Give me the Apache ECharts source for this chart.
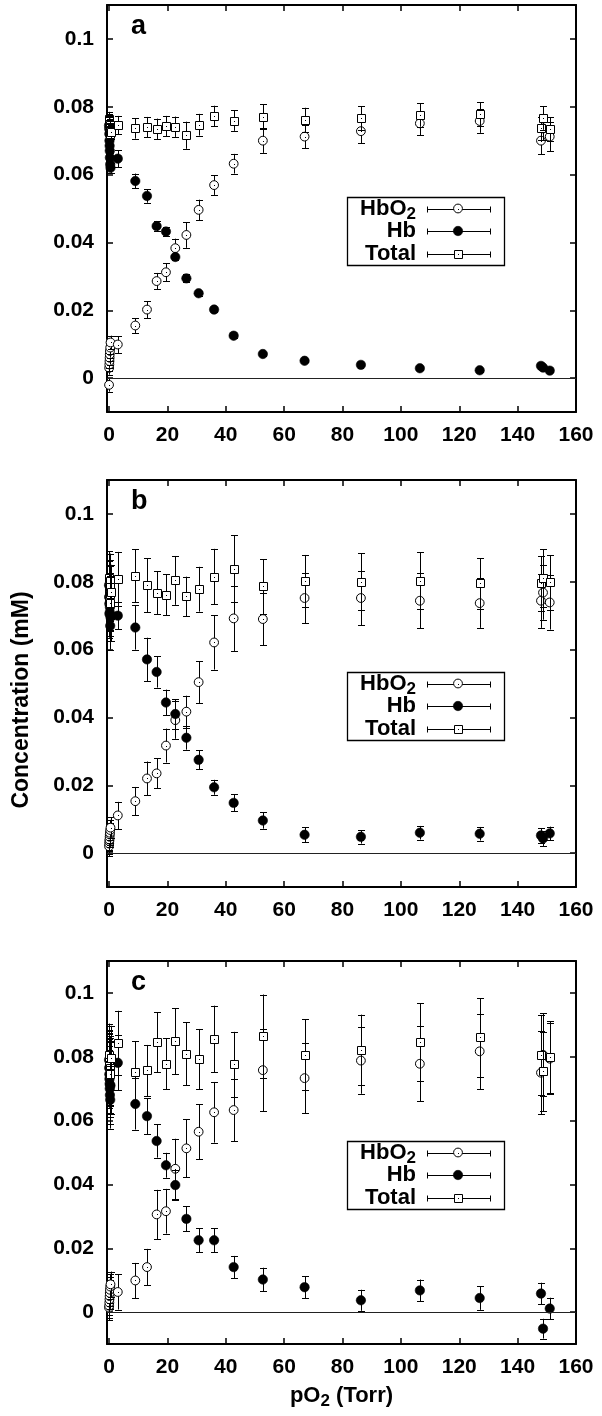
<!DOCTYPE html>
<html>
<head>
<meta charset="utf-8">
<script src="https://cdn.jsdelivr.net/npm/echarts@6/dist/echarts.min.js"></script>
<style>
  html, body { margin: 0; padding: 0; background: #fff; }
  #chart { width: 602px; height: 1416px; }
</style>
</head>
<body>
<div id="chart"></div>
<script>
// Haemoglobin oxygen titration: HbO2, deoxy-Hb and total Hb (mM) versus pO2 (Torr)
const FONT = '"Liberation Sans", Arial, Helvetica, sans-serif';

// pO2 of each spectrum: a tight group near anoxia, then the titration steps
const pO2 = [0, 0.05, 0.1, 0.15, 0.2, 0.25, 0.3, 0.4, 0.5,
  3, 9, 13, 16.3, 19.5, 22.7, 26.5, 30.7, 36, 42.7, 52.7, 67, 86.3, 106.5, 127, 148, 148.7, 151];

const xTicks = [0, 20, 40, 60, 80, 100, 120, 140, 160];
const yTicks = [0, 0.02, 0.04, 0.06, 0.08, 0.1];
const panelLabels = ['a', 'b', 'c'];

// Panel a
const aHbO2 = [-0.002, 0.003, 0.004, 0.005, 0.006, 0.007, 0.008, 0.009, 0.0105,
  0.0099, 0.0155, 0.0202, 0.0286, 0.0312, 0.0383, 0.0422, 0.0496, 0.0569, 0.0632, 0.0700, 0.0712, 0.0728, 0.0751, 0.0758, 0.0700, 0.0736, 0.0712];
const aHbO2Err = [0.002, 0.002, 0.002, 0.002, 0.002, 0.002, 0.002, 0.002, 0.002,
  0.0025, 0.0022, 0.0025, 0.0024, 0.0026, 0.0028, 0.0038, 0.003, 0.0029, 0.0029, 0.0036, 0.0035, 0.0035, 0.0035, 0.0035, 0.004, 0.0035, 0.0043];
const aHb = [0.0745, 0.0735, 0.072, 0.070, 0.0685, 0.067, 0.065, 0.063, 0.062,
  0.0647, 0.0581, 0.0537, 0.0448, 0.0432, 0.0357, 0.0294, 0.0250, 0.0202, 0.0125, 0.0071, 0.0051, 0.0039, 0.0029, 0.0023, 0.0036, 0.0031, 0.0022];
const aHbErr = [0.0015, 0.0015, 0.0015, 0.0015, 0.0015, 0.0015, 0.0015, 0.0015, 0.0015,
  0.0025, 0.0022, 0.002, 0.0015, 0.0013, 0.001, 0.0012, 0.0008, 0.0008, 0.0006, 0.0005, 0.0004, 0.0004, 0.0004, 0.0004, 0.0004, 0.0004, 0.0004];
const aTotal = [0.0725, 0.0765, 0.076, 0.075, 0.0745, 0.074, 0.073, 0.072, 0.0725,
  0.0746, 0.0736, 0.0740, 0.0735, 0.0743, 0.0741, 0.0716, 0.0747, 0.0773, 0.0759, 0.0771, 0.0762, 0.0766, 0.0776, 0.0778, 0.0736, 0.0767, 0.0734];
const aTotalErr = [0.002, 0.002, 0.002, 0.002, 0.002, 0.002, 0.002, 0.002, 0.002,
  0.0027, 0.003, 0.003, 0.003, 0.003, 0.003, 0.004, 0.0032, 0.003, 0.003, 0.0037, 0.0035, 0.0035, 0.0035, 0.0035, 0.0035, 0.0035, 0.0035];

// Panel b
const bHbO2 = [0.002, 0.0028, 0.0035, 0.004, 0.0048, 0.0055, 0.006, 0.0068, 0.0075,
  0.0111, 0.0153, 0.022, 0.0235, 0.0317, 0.0392, 0.0417, 0.0504, 0.0621, 0.0692, 0.069, 0.0752, 0.0752, 0.0744, 0.0737, 0.0744, 0.0768, 0.0739];
const bHbO2Err = [0.003, 0.003, 0.003, 0.003, 0.003, 0.003, 0.003, 0.003, 0.003,
  0.004, 0.0042, 0.005, 0.0044, 0.005, 0.0055, 0.0047, 0.0062, 0.008, 0.0096, 0.0077, 0.0074, 0.008, 0.0081, 0.0073, 0.008, 0.008, 0.008];
const bHb = [0.079, 0.0755, 0.0735, 0.0705, 0.0755, 0.071, 0.0725, 0.067, 0.0695,
  0.070, 0.0665, 0.0571, 0.0534, 0.0444, 0.041, 0.034, 0.0275, 0.0194, 0.0148, 0.0096, 0.0054, 0.0048, 0.006, 0.0057, 0.0052, 0.0043, 0.0058];
const bHbErr = [0.007, 0.007, 0.007, 0.007, 0.007, 0.007, 0.007, 0.007, 0.007,
  0.004, 0.0065, 0.0064, 0.0046, 0.0038, 0.0043, 0.0035, 0.0028, 0.0022, 0.0025, 0.0024, 0.0022, 0.002, 0.002, 0.002, 0.0022, 0.0022, 0.002];
const bTotal = [0.081, 0.0783, 0.077, 0.0745, 0.0803, 0.0765, 0.0785, 0.0738, 0.077,
  0.0808, 0.0818, 0.079, 0.0768, 0.0762, 0.0804, 0.0757, 0.0778, 0.0815, 0.0839, 0.0786, 0.0803, 0.080, 0.0803, 0.0795, 0.0795, 0.0811, 0.0798];
const bTotalErr = [0.008, 0.008, 0.008, 0.008, 0.008, 0.008, 0.008, 0.008, 0.008,
  0.008, 0.0078, 0.008, 0.0063, 0.006, 0.0072, 0.0058, 0.0066, 0.0082, 0.0098, 0.008, 0.0076, 0.0084, 0.0084, 0.0075, 0.008, 0.0085, 0.008];

// Panel c
const cHbO2 = [0.0014, 0.002, 0.003, 0.004, 0.005, 0.006, 0.007, 0.008, 0.0087,
  0.0063, 0.0099, 0.0141, 0.0306, 0.0316, 0.0449, 0.0513, 0.0565, 0.0626, 0.0633, 0.0758, 0.0733, 0.0788, 0.0778, 0.0817, 0.075, 0.0806, 0.0794];
const cHbO2Err = [0.004, 0.004, 0.004, 0.004, 0.004, 0.004, 0.004, 0.004, 0.004,
  0.0055, 0.0055, 0.0057, 0.0077, 0.007, 0.0094, 0.0091, 0.0086, 0.0095, 0.0097, 0.0128, 0.011, 0.0104, 0.0117, 0.0118, 0.013, 0.013, 0.0112];
const cHb = [0.079, 0.0765, 0.0745, 0.073, 0.0715, 0.070, 0.068, 0.0665, 0.071,
  0.0781, 0.0652, 0.0614, 0.0536, 0.046, 0.0398, 0.0292, 0.0225, 0.0225, 0.0141, 0.0102, 0.0078, 0.0037, 0.0068, 0.0044, 0.0058, -0.0052, 0.0011];
const cHbErr = [0.009, 0.009, 0.009, 0.009, 0.009, 0.009, 0.009, 0.009, 0.009,
  0.0086, 0.008, 0.0056, 0.0052, 0.0039, 0.0047, 0.0039, 0.0038, 0.0038, 0.0035, 0.0037, 0.0035, 0.0033, 0.0034, 0.0037, 0.0034, 0.0031, 0.0034];
const cTotal = [0.0804, 0.0785, 0.0775, 0.077, 0.0765, 0.076, 0.075, 0.0745, 0.0797,
  0.0843, 0.0753, 0.0757, 0.0846, 0.0778, 0.0849, 0.0809, 0.0793, 0.0856, 0.0776, 0.0864, 0.0807, 0.0822, 0.0846, 0.0861, 0.0806, 0.0754, 0.0799];
const cTotalErr = [0.01, 0.01, 0.01, 0.01, 0.01, 0.01, 0.01, 0.01, 0.01,
  0.0101, 0.0096, 0.008, 0.0094, 0.008, 0.0103, 0.0099, 0.0094, 0.0104, 0.0102, 0.0131, 0.011, 0.011, 0.0122, 0.0123, 0.0125, 0.0125, 0.0112];

const panels = [
  { HbO2: [aHbO2, aHbO2Err], Hb: [aHb, aHbErr], Total: [aTotal, aTotalErr] },
  { HbO2: [bHbO2, bHbO2Err], Hb: [bHb, bHbErr], Total: [bTotal, bTotalErr] },
  { HbO2: [cHbO2, cHbO2Err], Hb: [cHb, cHbErr], Total: [cTotal, cTotalErr] }
];

// series drawing order, legend order and symbol of each species
const species = [
  { key: 'HbO2', marker: 'openCircle', label: 'HbO{s|2}' },
  { key: 'Hb', marker: 'filledCircle', label: 'Hb' },
  { key: 'Total', marker: 'openSquare', label: 'Total' }
];

const X_MIN = -0.7, X_MAX = 160, Y_MIN = -0.01, Y_MAX = 0.11;
// legend box anchor (top-left corner) in data units of each panel
const LEGEND_ANCHOR = [81.5, 0.0535];

const gridBoxes = [
  { left: 107, top: 5, width: 469, height: 407 },
  { left: 107, top: 480, width: 469, height: 407 },
  { left: 107, top: 961, width: 469, height: 383 }
];

const px = v => Math.round(v) + 0.5;

function markerShape(kind, x, y) {
  const cx = px(x), cy = px(y);
  if (kind === 'filledCircle') {
    return [{ type: 'circle', shape: { cx: x, cy: y, r: 4.7 }, style: { fill: '#000', stroke: '#000', lineWidth: 0.6 } }];
  }
  const dot = { type: 'rect', shape: { x: Math.round(x), y: Math.round(y), width: 1, height: 1 }, style: { fill: '#000' } };
  if (kind === 'openCircle') {
    return [{ type: 'circle', shape: { cx: x, cy: y, r: 4.4 }, style: { fill: '#fff', stroke: '#000', lineWidth: 1 } }, dot];
  }
  return [{ type: 'rect', shape: { x: cx - 4, y: cy - 4, width: 8, height: 8 }, style: { fill: '#fff', stroke: '#000', lineWidth: 1 } }, dot];
}

function errorBarRenderer(kind) {
  return function (params, api) {
    const x = api.value(0), y = api.value(1), e = api.value(2);
    const c = api.coord([x, y]);
    const lo = api.coord([x, y - e]);
    const hi = api.coord([x, y + e]);
    const bx = px(c[0]);
    const cap = 3.5;
    const ls = { stroke: '#000', lineWidth: 1 };
    const children = [
      { type: 'line', shape: { x1: bx, y1: lo[1], x2: bx, y2: hi[1] }, style: ls },
      { type: 'line', shape: { x1: bx - cap, y1: px(lo[1]), x2: bx + cap, y2: px(lo[1]) }, style: ls },
      { type: 'line', shape: { x1: bx - cap, y1: px(hi[1]), x2: bx + cap, y2: px(hi[1]) }, style: ls }
    ].concat(markerShape(kind, c[0], c[1]));
    return { type: 'group', children: children };
  };
}

const labelStyle = { fontFamily: FONT, fontWeight: 'bold', fontSize: 21, color: '#000' };
const frameLine = { show: true, onZero: false, lineStyle: { color: '#000', width: 2 } };
const tickStyle = { color: '#000', width: 1.5 };
const subStyle = { fontFamily: FONT, fontWeight: 'bold', fontSize: 17, lineHeight: 8, verticalAlign: 'bottom' };

const grid = [], xAxis = [], yAxis = [], series = [];

gridBoxes.forEach((g, i) => {
  grid.push(Object.assign({ containLabel: false }, g));

  // bottom and top x axes (top one mirrors ticks only)
  ['bottom', 'top'].forEach(pos => {
    const isMain = pos === 'bottom';
    xAxis.push({
      type: 'value', gridIndex: i, position: pos, min: X_MIN, max: X_MAX,
      axisLine: frameLine,
      axisTick: { show: true, inside: true, length: 6, customValues: xTicks, lineStyle: tickStyle },
      axisLabel: Object.assign({ show: isMain, margin: 13, customValues: xTicks, formatter: v => String(Math.round(v)) }, labelStyle),
      splitLine: { show: false },
      name: (isMain && i === 2) ? 'pO{s|2} (Torr)' : '',
      nameLocation: 'middle', nameGap: 38,
      nameTextStyle: {
        fontFamily: FONT, fontWeight: 'bold', fontSize: 22, color: '#000', lineHeight: 28,
        rich: { s: Object.assign({ color: '#000' }, subStyle) }
      }
    });
  });

  // left and right y axes (right one mirrors ticks only)
  ['left', 'right'].forEach(pos => {
    const isMain = pos === 'left';
    yAxis.push({
      type: 'value', gridIndex: i, position: pos, min: Y_MIN, max: Y_MAX,
      axisLine: frameLine,
      axisTick: { show: true, inside: true, length: 6, customValues: yTicks, lineStyle: tickStyle },
      axisLabel: Object.assign({
        show: isMain, margin: 13, customValues: yTicks,
        formatter: v => (Math.abs(v) < 1e-9 ? '0' : String(+v.toFixed(2)))
      }, labelStyle),
      splitLine: { show: false }
    });
  });

  species.forEach((sp, k) => {
    const [vals, errs] = panels[i][sp.key];
    const s = {
      type: 'custom',
      name: sp.key,
      xAxisIndex: i * 2,
      yAxisIndex: i * 2,
      z: 3 + k,
      clip: false,
      renderItem: errorBarRenderer(sp.marker),
      data: pO2.map((x, j) => [x, vals[j], errs[j]]),
      silent: true
    };
    if (k === 0) {
      // zero-concentration reference line
      s.markLine = {
        silent: true, symbol: ['none', 'none'], animation: false,
        label: { show: false },
        lineStyle: { color: '#222', width: 1, type: 'solid' },
        data: [{ yAxis: 0 }]
      };
    }
    series.push(s);
  });
});

const chart = echarts.init(document.getElementById('chart'), null, { renderer: 'canvas' });
chart.setOption({ animation: false, backgroundColor: '#fff', grid, xAxis, yAxis, series });

// shared y title, panel letters and legends
const graphic = [{
  type: 'text', x: 22, y: 700, rotation: Math.PI / 2, silent: true,
  style: {
    text: 'Concentration (mM)', align: 'center', verticalAlign: 'middle',
    fontFamily: FONT, fontWeight: 'bold', fontSize: 23, fill: '#000'
  }
}];
gridBoxes.forEach((g, i) => {
  graphic.push({
    type: 'text', left: g.left + 24, top: g.top + 8, silent: true,
    style: { text: panelLabels[i], fontFamily: FONT, fontWeight: 'bold', fontSize: 27, fill: '#000' }
  });

  const p = chart.convertToPixel({ xAxisIndex: i * 2, yAxisIndex: i * 2 }, LEGEND_ANCHOR);
  const lx = Math.round(p[0]), ly = Math.round(p[1]);
  const children = [{
    type: 'rect', shape: { x: lx + 0.5, y: ly + 0.5, width: 157, height: 68 },
    style: { fill: 'none', stroke: '#000', lineWidth: 1.3 }
  }];
  const rowY = [11.5, 34, 57];
  species.forEach((sp, k) => {
    const ry = ly + rowY[k];
    children.push({
      type: 'text',
      style: {
        text: sp.label, x: lx + 69, y: ry, align: 'right', verticalAlign: 'middle',
        fontFamily: FONT, fontWeight: 'bold', fontSize: 22, fill: '#000', lineHeight: 28,
        rich: { s: Object.assign({ fill: '#000' }, subStyle) }
      }
    });
    const y0 = px(ry);
    const ls = { stroke: '#000', lineWidth: 1 };
    children.push({ type: 'line', shape: { x1: lx + 80, y1: y0, x2: lx + 144, y2: y0 }, style: ls });
    children.push({ type: 'line', shape: { x1: lx + 80.5, y1: y0 - 3, x2: lx + 80.5, y2: y0 + 3 }, style: ls });
    children.push({ type: 'line', shape: { x1: lx + 143.5, y1: y0 - 3, x2: lx + 143.5, y2: y0 + 3 }, style: ls });
    markerShape(sp.marker, lx + 111, ry).forEach(m => children.push(m));
  });
  graphic.push({ type: 'group', silent: true, children: children });
});
chart.setOption({ graphic: graphic });
</script>
</body>
</html>
